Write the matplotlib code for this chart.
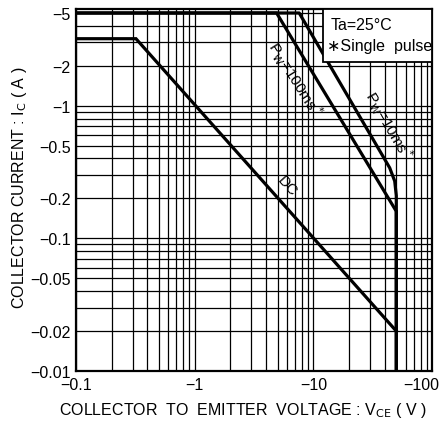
import numpy as np
import matplotlib.pyplot as plt
import matplotlib.transforms as mtransforms
from matplotlib.patches import Rectangle
from matplotlib.ticker import FixedLocator, LogLocator, NullFormatter

plt.rcParams["font.family"] = ["Liberation Sans", "DejaVu Sans"]

# Safe operating area (magnitudes)
dc_vce = [0.1, 0.32, 50]
dc_ic = [3.2, 3.2, 0.02]

p100_vce = [0.1, 4.9, 50, 50]
p100_ic = [5, 5, 0.16, 0.01]

p10_vce = [0.1, 7.6, 44, 48.5, 50, 50]
p10_ic = [5, 5, 0.34, 0.27, 0.21, 0.01]

x_ticks = [0.1, 1, 10, 100]
x_labels = ["\u22120.1", "\u22121", "\u221210", "\u2212100"]
y_ticks = [0.01, 0.02, 0.05, 0.1, 0.2, 0.5, 1, 2, 5]
y_labels = ["\u22120.01", "\u22120.02", "\u22120.05", "\u22120.1", "\u22120.2",
            "\u22120.5", "\u22121", "\u22122", "\u22125"]

fig = plt.figure(figsize=(4.43, 4.27), dpi=100)
ax = fig.add_axes([0.1716, 0.1288, 0.8036, 0.8478])
ax.set_xscale("log")
ax.set_yscale("log")
ax.set_xlim(0.1, 100)
ax.set_ylim(0.01, 5.36)

ax.xaxis.set_major_locator(FixedLocator(x_ticks))
ax.set_xticklabels(x_labels)
ax.yaxis.set_major_locator(FixedLocator(y_ticks))
ax.set_yticklabels(y_labels)
ax.xaxis.set_minor_locator(LogLocator(base=10, subs=np.arange(2, 10)))
ax.yaxis.set_minor_locator(LogLocator(base=10, subs=np.arange(2, 10)))
ax.xaxis.set_minor_formatter(NullFormatter())
ax.yaxis.set_minor_formatter(NullFormatter())
ax.tick_params(which="both", length=0, labelsize=11.5, pad=4)
# last x label sits a little inside the figure, as on the datasheet
last = ax.get_xticklabels()[-1]
last.set_transform(last.get_transform()
                   + mtransforms.ScaledTranslation(-11 / 100, 0, fig.dpi_scale_trans))

ax.grid(which="both", color="black", lw=0.9)
for s in ax.spines.values():
    s.set_linewidth(1.6)

lw = 2.3
ax.plot(dc_vce, dc_ic, color="black", lw=lw, solid_joinstyle="miter")
ax.plot(p100_vce, p100_ic, color="black", lw=lw, solid_joinstyle="miter")
ax.plot(p10_vce, p10_ic, color="black", lw=lw, solid_joinstyle="round")

ax.text(7.0, 1.6, r"P$_\mathrm{W}$=100ms$^*$", rotation=-58, fontsize=11,
        ha="center", va="center", rotation_mode="anchor")
ax.text(43.0, 0.72, r"P$_\mathrm{W}$=10ms$^*$", rotation=-60, fontsize=11,
        ha="center", va="center", rotation_mode="anchor")
ax.text(6.0, 0.25, "DC", rotation=-48, fontsize=11,
        ha="center", va="center", rotation_mode="anchor")

# condition box in the top right corner
ax.add_patch(Rectangle((0.694, 0.853), 0.306, 0.147, transform=ax.transAxes,
                       fc="white", ec="black", lw=1.3, zorder=3))
ax.text(0.715, 0.958, "Ta=25\u00b0C", transform=ax.transAxes, ha="left",
        va="center", fontsize=11.5, zorder=4)
ax.text(0.705, 0.898, "\u2217Single  pulse", transform=ax.transAxes, ha="left",
        va="center", fontsize=11.5, zorder=4)

ax.set_ylabel(r"COLLECTOR CURRENT : I$_\mathrm{C}$ ( A )", fontsize=11.5)
ax.set_xlabel(r"COLLECTOR  TO  EMITTER  VOLTAGE : V$_\mathrm{CE}$ ( V )", fontsize=11.5)
ax.xaxis.set_label_coords(0.468, -0.08)
ax.yaxis.set_label_coords(-0.133, 0.51)

fig.savefig("out.png", dpi=100, facecolor="white")
